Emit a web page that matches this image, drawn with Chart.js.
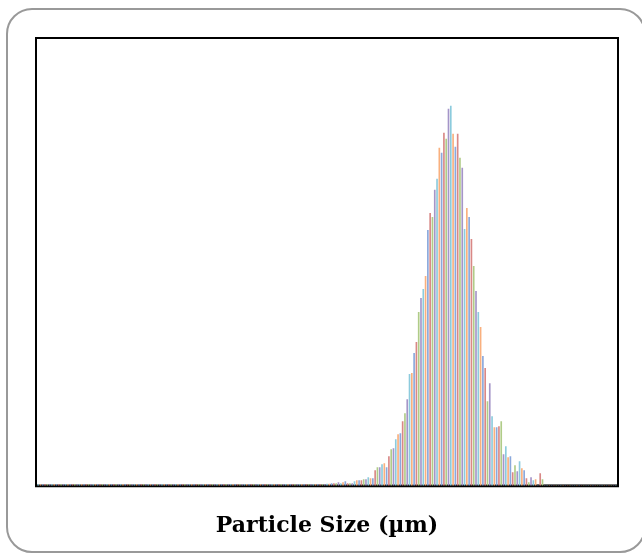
<!DOCTYPE html>
<html>
<head>
<meta charset="utf-8">
<script src="https://cdn.jsdelivr.net/npm/chart.js@4.4.0/dist/chart.umd.min.js"></script>
<style>
  html, body { margin: 0; padding: 0; background: #fff; }
  #wrap { position: relative; width: 642px; height: 558px; }
  #card {
    position: absolute; left: 6px; top: 8px; width: 640px; height: 545px;
    border: 2px solid #999; border-radius: 26px; box-sizing: border-box;
  }
  canvas { position: absolute; left: 0; top: 0; }
</style>
</head>
<body>
<div id="wrap">
  <div id="card"></div>
  <canvas id="sizeChart" width="642" height="558"></canvas>
</div>
<script>
// bin heights, left to right (260 bins)
const lowBins = [
  1, 1, 1, 1, 1, 1, 1, 1, 1, 1, 1, 1, 1, 1, 1, 1, 1, 1, 1, 1,
  1, 1, 1, 1, 1, 1, 1, 1, 1, 1, 1, 1, 1, 1, 1, 1, 1, 1, 1, 1,
  1, 1, 1, 1, 1, 1, 1, 1, 1, 1, 1, 1, 1, 1, 1, 1, 1, 1, 1, 1,
  1, 1, 1, 1, 1, 1, 1, 1, 1, 1, 1, 1, 1, 1, 1, 1, 1, 1, 1, 1,
  1, 1, 1, 1, 1, 1, 1, 1, 1, 1, 1, 1, 1, 1, 1, 1, 1, 1, 1, 1,
  1, 1, 1, 1, 1, 1, 1, 1, 1, 1, 1, 1, 1, 1, 1, 1, 1, 1, 1, 1,
  1, 1, 1, 1, 1, 1, 1.5, 1.5, 2, 2, 2, 3, 2, 3, 4, 2
];
const peakBins = [
  2, 2, 4, 5, 5, 5, 6, 6, 8, 7, 7, 15, 18, 18, 21, 22, 18, 29, 36, 37, 46, 51,
  52, 64, 72, 86, 111, 112, 132, 143, 173, 187, 196, 209, 255, 272, 268, 295,
  306, 337, 332, 352, 346, 376, 379,
  351, 338, 351, 327, 317, 256, 277, 268, 246, 219, 194, 173, 158, 129, 117,
  84, 102, 69, 58, 58, 59, 64,
  31, 39, 28, 29, 13, 20, 14, 24, 17, 15, 7, 3, 8, 5, 6, 0, 12, 6
];
const highBins = [
  0, 0, 0, 0, 0, 0, 0, 0, 0, 0, 0, 0, 0, 0, 0, 0,
  0, 0, 0, 0, 0, 0, 0, 0, 0, 0, 0, 0, 0, 0, 0, 0
];
const values = lowBins.concat(peakBins, highBins);
const bins = values.map((v, i) => String(i + 1));
const barColors = ['#8aa8dc', '#d98886', '#b0cc88', '#a595c8', '#8ccbdd', '#f9b07e'];

const frame = {
  id: 'frame',
  beforeDatasetsDraw(chart) {
    const { ctx, chartArea: a } = chart;
    ctx.save();
    ctx.strokeStyle = '#000';
    ctx.lineWidth = 2;
    ctx.strokeRect(a.left - 1, a.top, a.right - a.left + 2, a.bottom - a.top);
    ctx.lineWidth = 2.5;
    ctx.beginPath();
    ctx.moveTo(a.left - 2, a.bottom + 0.5);
    ctx.lineTo(a.right + 2, a.bottom + 0.5);
    ctx.stroke();
    ctx.restore();
  }
};

new Chart(document.getElementById('sizeChart'), {
  type: 'bar',
  data: {
    labels: bins,
    datasets: [{
      data: values,
      backgroundColor: c => barColors[(c.dataIndex + 4) % barColors.length],
      barThickness: 1,
      borderWidth: 0
    }]
  },
  options: {
    responsive: false,
    animation: false,
    layout: { padding: { left: 37, right: 25, top: 38, bottom: 19 } },
    plugins: { legend: { display: false }, tooltip: { enabled: false } },
    scales: {
      x: {
        grid: { display: false, drawTicks: false },
        border: { display: false },
        ticks: { display: false },
        title: {
          display: true,
          text: 'Particle Size (µm)',
          color: '#000',
          font: { family: 'DejaVu Serif', size: 22, weight: 'bold' },
          padding: { top: 27, bottom: 0 }
        }
      },
      y: {
        display: false,
        min: 0,
        max: 447
      }
    }
  },
  plugins: [frame]
});
</script>
</body>
</html>
